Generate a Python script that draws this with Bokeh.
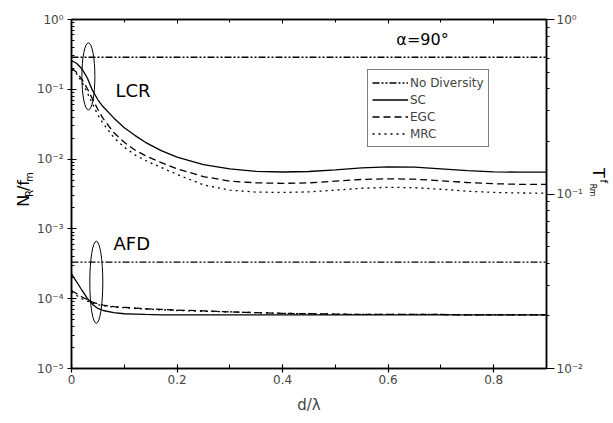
import numpy as np
from bokeh.plotting import figure
from bokeh.layouts import row
from bokeh.models import (Range1d, LogScale, LogAxis, LinearAxis, Label, Legend, LegendItem,
                          SingleIntervalTicker, FixedTicker, CustomJSTickFormatter)
from bokeh.core.properties import value
from bokeh.embed import file_html
from bokeh.resources import INLINE

# ---------------- data ----------------
d = [0, 0.01, 0.02, 0.03, 0.04, 0.05, 0.06, 0.08, 0.1, 0.12, 0.14, 0.17, 0.2, 0.25,
     0.3, 0.35, 0.4, 0.45, 0.5, 0.55, 0.6, 0.65, 0.7, 0.75, 0.8, 0.85, 0.9]

# LCR  (N_R / f_m, left axis)
lcr_nd = 0.288
lcr_sc = [0.259, 0.234, 0.195, 0.145, 0.0955, 0.0708, 0.0562, 0.0389, 0.0282, 0.0219,
          0.0174, 0.0132, 0.0107, 0.00832, 0.00724, 0.00668, 0.00653, 0.00664, 0.00700,
          0.00750, 0.00776, 0.00767, 0.00724, 0.00684, 0.00658, 0.00649, 0.00649]
lcr_egc = [0.200, 0.174, 0.138, 0.102, 0.0724, 0.0513, 0.0380, 0.0240, 0.0174, 0.0135,
           0.0112, 0.00891, 0.00724, 0.00562, 0.00484, 0.00457, 0.00449, 0.00457, 0.00484,
           0.00511, 0.00522, 0.00515, 0.00490, 0.00462, 0.00444, 0.00435, 0.00433]
lcr_mrc = [0.195, 0.166, 0.126, 0.0891, 0.0617, 0.0427, 0.0324, 0.0204, 0.0148, 0.0115,
           0.00955, 0.00759, 0.00603, 0.00427, 0.00359, 0.00337, 0.00333, 0.00339, 0.00359,
           0.00382, 0.00395, 0.00389, 0.00370, 0.00347, 0.00333, 0.00327, 0.00325]

# AFD  (T_R f_m, right axis)
afd_nd = 0.0407
afd_sc = [0.0349, 0.0313, 0.0280, 0.0252, 0.0233, 0.0221, 0.0215, 0.0209, 0.0206, 0.0205,
          0.0204, 0.0203, 0.0203, 0.0203, 0.0203, 0.0203, 0.0203, 0.0203, 0.0203, 0.0203,
          0.0203, 0.0203, 0.0203, 0.0203, 0.0203, 0.0203, 0.0203]
afd_egc = [0.0280, 0.0268, 0.0257, 0.0248, 0.0240, 0.0235, 0.0231, 0.0226, 0.0224, 0.0222,
           0.0220, 0.0218, 0.0216, 0.0214, 0.0211, 0.0209, 0.0207, 0.0206, 0.0205, 0.0204,
           0.0204, 0.0204, 0.0204, 0.0203, 0.0203, 0.0203, 0.0203]
afd_mrc = [0.0275, 0.0262, 0.0251, 0.0243, 0.0237, 0.0232, 0.0229, 0.0225, 0.0223, 0.0221,
           0.0219, 0.0217, 0.0215, 0.0213, 0.0211, 0.0209, 0.0207, 0.0206, 0.0205, 0.0204,
           0.0204, 0.0204, 0.0204, 0.0203, 0.0203, 0.0203, 0.0203]

series_names = ["No Diversity", "SC", "EGC", "MRC"]
left_decades = [1e-5, 1e-4, 1e-3, 1e-2, 1e-1, 1]
right_decades = [1e-2, 1e-1, 1]

FONT = "DejaVu Sans"
H = 423
LW, RW = 34, 28          # side strips for the rotated axis titles


def minors(decs):
    out = []
    for dec in decs[:-1]:
        out += [k * dec for k in range(2, 10)]
    return out


# ---------------- main figure ----------------
p = figure(width=613 - LW - RW, height=H, x_range=Range1d(0, 0.9), y_range=Range1d(1e-5, 1),
           y_axis_type="log", output_backend="svg", toolbar_location=None,
           min_border_left=71 - LW, min_border_right=39, min_border_top=19, min_border_bottom=55)
p.extra_y_ranges = {"r": Range1d(0.01, 1)}
p.extra_y_scales = {"r": LogScale()}
p.grid.visible = False
p.outline_line_color = "black"
p.outline_line_width = 1.5

sup_code = """
const sup = {"0":"\u2070","1":"\u00b9","2":"\u00b2","3":"\u00b3","4":"\u2074","5":"\u2075",
             "6":"\u2076","7":"\u2077","8":"\u2078","9":"\u2079","-":"\u207b"};
const e = Math.round(Math.log10(tick));
return "10" + String(e).split("").map(c => sup[c]).join("");
"""

# left axis
ya = p.yaxis[0]
ya.ticker = FixedTicker(ticks=left_decades, minor_ticks=minors(left_decades))
ya.formatter = CustomJSTickFormatter(code=sup_code)
ya.major_label_text_font = FONT
ya.major_label_text_font_size = "12px"
ya.major_label_standoff = 4
ya.major_tick_in = 5
ya.major_tick_out = 4
ya.minor_tick_in = 3
ya.minor_tick_out = 0
ya.axis_line_width = 1.5
ya.major_tick_line_width = 1.2

# right axis
ra = LogAxis(y_range_name="r",
             ticker=FixedTicker(ticks=right_decades, minor_ticks=minors(right_decades)),
             formatter=CustomJSTickFormatter(code=sup_code))
ra.major_label_text_font = FONT
ra.major_label_text_font_size = "12px"
ra.major_label_standoff = 2
ra.major_tick_in = 0
ra.major_tick_out = 8
ra.minor_tick_in = 0
ra.minor_tick_out = 3
ra.axis_line_width = 1.5
ra.major_tick_line_width = 1.2
p.add_layout(ra, "right")

# bottom axis
xa = p.xaxis[0]
xa.ticker = SingleIntervalTicker(interval=0.2, num_minor_ticks=2)
xa.major_label_text_font = FONT
xa.major_label_text_font_size = "12px"
xa.major_label_standoff = 2
xa.major_tick_in = 4
xa.major_tick_out = 4
xa.minor_tick_in = 4
xa.minor_tick_out = 0
xa.axis_line_width = 1.5
xa.major_tick_line_width = 1.2
xa.axis_label = "d/\u03bb"
xa.axis_label_text_font = FONT
xa.axis_label_text_font_size = "15px"
xa.axis_label_text_font_style = "normal"
xa.axis_label_standoff = 9

# top axis (ticks only)
ta = LinearAxis(ticker=SingleIntervalTicker(interval=0.2, num_minor_ticks=2))
ta.major_label_text_font_size = "0px"
ta.major_label_text_color = None
ta.major_tick_in = 4
ta.major_tick_out = 0
ta.minor_tick_in = 3
ta.minor_tick_out = 0
ta.axis_line_width = 1.5
p.add_layout(ta, "above")

# ---------------- curves ----------------
DD = "7 2 2 2 2 2"
lw = 1.3
r_nd = p.line([d[0], d[-1]], [lcr_nd, lcr_nd], line_color="black", line_width=lw, line_dash=DD)
r_sc = p.line(d, lcr_sc, line_color="black", line_width=lw)
r_egc = p.line(d, lcr_egc, line_color="black", line_width=lw, line_dash="7 4")
r_mrc = p.line(d, lcr_mrc, line_color="black", line_width=lw, line_dash="2 4")

p.line([d[0], d[-1]], [afd_nd, afd_nd], line_color="black", line_width=lw, line_dash=DD, y_range_name="r")
p.line(d, afd_sc, line_color="black", line_width=lw, y_range_name="r")
p.line(d, afd_egc, line_color="black", line_width=lw, line_dash="7 4", y_range_name="r")
p.line(d, afd_mrc, line_color="black", line_width=lw, line_dash="2 4", y_range_name="r")

# group ellipses
p.ellipse(x=[0.032], y=[0.153], width=13, height=67, width_units="screen", height_units="screen",
          fill_color=None, line_color="black", line_width=1)
p.ellipse(x=[0.047], y=[1.72e-4], width=13, height=82, width_units="screen", height_units="screen",
          fill_color=None, line_color="black", line_width=1)

# legend
legend = Legend(items=[LegendItem(label=n, renderers=[r]) for n, r in
                       zip(series_names, [r_nd, r_sc, r_egc, r_mrc])],
                location=(296, 221), label_text_font=FONT, label_text_font_size="12px",
                label_height=17, glyph_height=17, glyph_width=36, label_standoff=2,
                spacing=0, padding=4, margin=0, border_line_color="black",
                border_line_width=1, background_fill_alpha=1)
p.add_layout(legend, "center")


def lab(txt, x, y, size, align="left"):
    p.add_layout(Label(x=x, y=y, x_units="screen", y_units="screen", text=txt,
                       text_font=FONT, text_font_size=size,
                       text_align=align, text_baseline="alphabetic", text_color="black"))


lab("\u03b1=90\u00b0", 351, 329, "16px", align="center")
lab("LCR", 44, 278, "18px")
lab("AFD", 42, 125, "18px")


# ---------------- side strips holding the rotated axis titles ----------------
def strip(w):
    f = figure(width=w, height=H, x_range=Range1d(0, w), y_range=Range1d(H, 0),
               output_backend="svg", toolbar_location=None, min_border=0,
               x_axis_location=None, y_axis_location=None)
    f.grid.visible = False
    f.outline_line_color = None
    return f


def piece(f, txt, x, y, size, angle):
    f.text(x=[x], y=[y], text=[txt], angle=angle, text_font=value(FONT),
           text_font_size=value(size), text_align="left", text_baseline="alphabetic",
           text_color="black")


lf = strip(LW)
a = np.pi / 2
piece(lf, "N", 23, 227, "16px", a)
piece(lf, "R", 29, 215, "10px", a)
piece(lf, "/f", 23, 208, "16px", a)
piece(lf, "m", 29, 197, "10px", a)

rf = strip(RW)
b = -np.pi / 2
piece(rf, "T", 13, 180, "16px", b)
piece(rf, "f", 18, 194, "10px", b)
piece(rf, "R", 7, 199, "8px", b)
piece(rf, "m", 7, 205, "8px", b)

layout = row(lf, p, rf)
open("out.html", "w").write(file_html(layout, INLINE))
